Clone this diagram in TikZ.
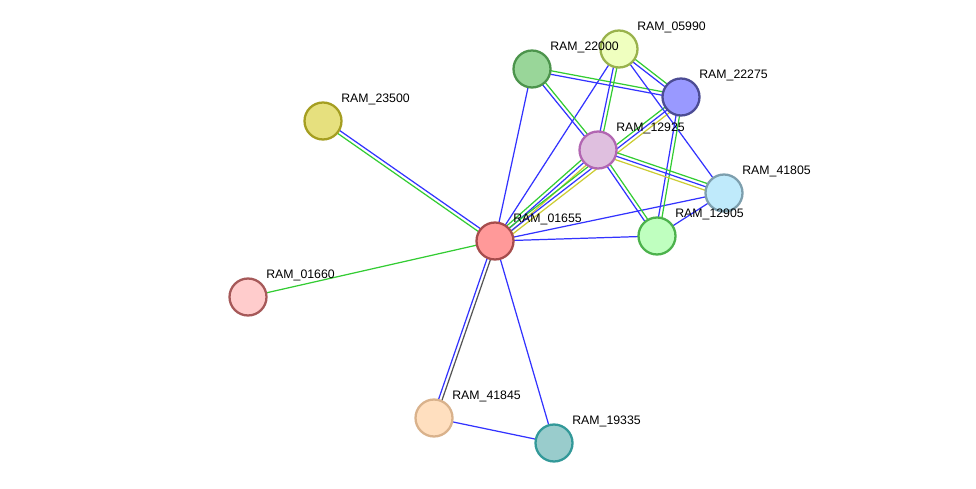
\documentclass[tikz,border=0pt]{standalone}
\usepackage{fontspec}
\setmainfont{Liberation Sans}
\usetikzlibrary{calc}
\definecolor{ebl}{HTML}{3333FF}
\definecolor{egr}{HTML}{33CC33}
\definecolor{eye}{HTML}{CCCC33}
\definecolor{egy}{HTML}{555555}
\def\LK#1#2#3#4{\draw[#3,line width=0.7pt] ($(#1)!#4!90:(#2)$) -- ($(#2)!#4!-90:(#1)$);}
\tikzset{prot/.style={circle,minimum size=0.74cm,line width=1.3pt,inner sep=0pt},
  lbl/.style={anchor=south west,font=\fontsize{7}{8}\selectfont,inner sep=0pt}}
\begin{document}
\begin{tikzpicture}[x=0.02cm,y=-0.02cm]
\useasboundingbox (0,0) rectangle (976,489);
\coordinate (p01655) at (495,241);
\coordinate (p23500) at (323,121);
\coordinate (p01660) at (248,297);
\coordinate (p41845) at (434,418);
\coordinate (p19335) at (554,443);
\coordinate (p12925) at (598,150);
\coordinate (p22000) at (532,69);
\coordinate (p05990) at (619,49);
\coordinate (p22275) at (681,97);
\coordinate (p41805) at (724,193);
\coordinate (p12905) at (657,236);
% links
\LK{p01655}{p23500}{egr}{1pt} \LK{p01655}{p23500}{ebl}{-1pt}
\LK{p01655}{p01660}{egr}{0pt}
\LK{p01655}{p41845}{egy}{1pt} \LK{p01655}{p41845}{ebl}{-1pt}
\LK{p01655}{p19335}{ebl}{0pt}
\LK{p41845}{p19335}{ebl}{0pt}
\LK{p01655}{p22000}{ebl}{0pt}
\LK{p01655}{p05990}{ebl}{0pt}
\LK{p01655}{p12925}{egr}{2pt} \LK{p01655}{p12925}{ebl}{0pt} \LK{p01655}{p12925}{eye}{-2pt}
\LK{p01655}{p22275}{egr}{1pt} \LK{p01655}{p22275}{ebl}{-1pt} \LK{p01655}{p22275}{eye}{-3pt}
\LK{p01655}{p41805}{ebl}{0pt}
\LK{p01655}{p12905}{ebl}{0pt}
\LK{p22000}{p22275}{egr}{1pt} \LK{p22000}{p22275}{ebl}{-1pt}
\LK{p22000}{p12925}{egr}{1pt} \LK{p22000}{p12925}{ebl}{-1pt}
\LK{p05990}{p12925}{egr}{1pt} \LK{p05990}{p12925}{ebl}{-1pt}
\LK{p05990}{p22275}{egr}{1pt} \LK{p05990}{p22275}{ebl}{-1pt}
\LK{p05990}{p41805}{ebl}{0pt}
\LK{p22275}{p12905}{egr}{1pt} \LK{p22275}{p12905}{ebl}{-1pt}
\LK{p12925}{p41805}{egr}{2pt} \LK{p12925}{p41805}{ebl}{0pt} \LK{p12925}{p41805}{eye}{-2pt}
\LK{p12925}{p12905}{egr}{1pt} \LK{p12925}{p12905}{ebl}{-1pt}
\LK{p41805}{p12905}{ebl}{0pt}
% proteins
\node[prot,fill=red!40,draw=red!50!black!70] (n01655) at (p01655) {};
\node[prot,fill=yellow!50!olive!45,draw=olive!80] (n23500) at (p23500) {};
\node[prot,fill=red!20,draw=red!30!gray] (n01660) at (p01660) {};
\node[prot,fill=orange!25,draw=brown!60] (n41845) at (p41845) {};
\node[prot,fill=teal!40,draw=teal!80] (n19335) at (p19335) {};
\node[prot,fill=violet!25,draw=violet!60] (n12925) at (p12925) {};
\node[prot,fill=green!60!black!40,draw=green!40!black!70] (n22000) at (p22000) {};
\node[prot,fill=lime!25,draw=lime!40!gray] (n05990) at (p05990) {};
\node[prot,fill=blue!40!white,draw=blue!40!black!70] (n22275) at (p22275) {};
\node[prot,fill=cyan!25,draw=cyan!30!gray] (n41805) at (p41805) {};
\node[prot,fill=green!25,draw=green!40!gray] (n12905) at (p12905) {};
\foreach \n/\t in {01655/RAM\_01655,23500/RAM\_23500,01660/RAM\_01660,41845/RAM\_41845,
  19335/RAM\_19335,12925/RAM\_12925,22000/RAM\_22000,05990/RAM\_05990,22275/RAM\_22275,
  41805/RAM\_41805,12905/RAM\_12905}
  \node[lbl] at ($(p\n)+(18,-16)$) {\t};
\end{tikzpicture}
\end{document}
